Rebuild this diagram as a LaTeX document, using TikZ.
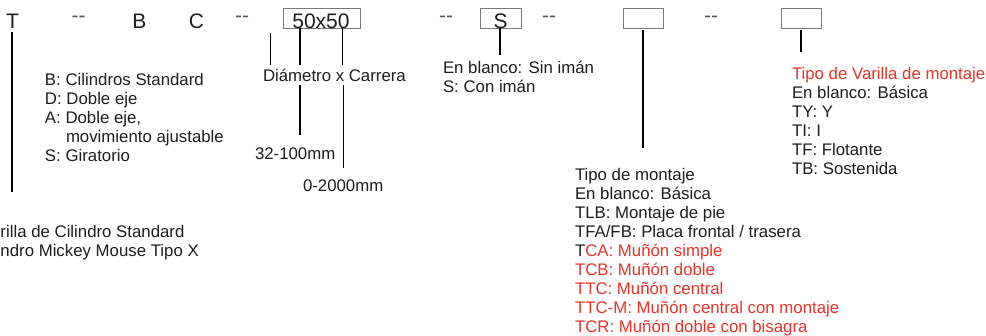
\documentclass[tikz,border=0pt]{standalone}
\usepackage{fontspec}
\setmainfont{Liberation Sans}
\definecolor{txt}{HTML}{1E1E1E}
\definecolor{myred}{HTML}{E8332B}
\definecolor{boxgray}{HTML}{7A7A7A}
\definecolor{dashgray}{HTML}{555555}
\begin{document}
\begin{tikzpicture}[x=1pt,y=-1pt,
  lbl/.style={inner sep=0,outer sep=0,anchor=base west,align=left,
    font=\fontsize{16.8}{19}\selectfont,text=txt},
  code/.style={inner sep=0,outer sep=0,anchor=base,font=\fontsize{21}{24}\selectfont,text=txt},
  dd/.style={code,text=dashgray},
  slot/.style={draw=boxgray,line width=0.9pt,inner sep=0,minimum height=20pt},
  thickln/.style={line width=2pt,draw=black},
  thinln/.style={line width=1pt,draw=black}]
\clip (0,0) rectangle (986,336);
\fill[white] (0,0) rectangle (986,336);
% top row
\node[code] (t) at (12.5,29) {T};
\node[dd] (d1) at (78.5,23) {-{}-};
\node[code] (b) at (139.5,29) {B};
\node[code] (c) at (196.5,29) {C};
\node[dd] (d2) at (242,23) {-{}-};
\node[slot,minimum width=77pt] (box1) at (321.5,18) {};
\node[code] (sz) at (321,29) {50x50};
\node[dd] (d3) at (446,23) {-{}-};
\node[slot,minimum width=41pt] (box2) at (500.5,18) {};
\node[code] (s) at (500.5,29) {S};
\node[dd] (d4) at (549,23) {-{}-};
\node[slot,minimum width=40pt] (box3) at (643,18) {};
\node[dd] (d5) at (711,23) {-{}-};
\node[slot,minimum width=40pt] (box4) at (801,18) {};
% labels (base anchor = baseline of last line)
\node[lbl] (tipos) at (45,162) {B: Cilindros Standard\\D: Doble eje\\A: Doble eje,\\\hspace*{21pt}movimiento ajustable\\S: Giratorio};
\node[lbl] (dc) at (263,82) {Diámetro x Carrera};
\node[lbl] (dia) at (255,160) {32-100mm};
\node[lbl] (car) at (303,192) {0-2000mm};
\node[lbl] (iman) at (443,93) {En blanco: Sin imán\\S: Con imán};
\node[lbl] (mont) at (575,333) {Tipo de montaje\\En blanco: Básica\\TLB: Montaje de pie\\TFA/FB: Placa frontal / trasera\\T\textcolor{myred}{CA: Muñón simple}\\\textcolor{myred}{TCB: Muñón doble}\\\textcolor{myred}{TTC: Muñón central}\\\textcolor{myred}{TTC-M: Muñón central con montaje}\\\textcolor{myred}{TCR: Muñón doble con bisagra}};
\node[lbl] (var) at (792,175) {\textcolor{myred}{Tipo de Varilla de montaje}\\En blanco: Básica\\TY: Y\\TI: I\\TF: Flotante\\TB: Sostenida};
\node[lbl] (serie) at (0.5,257) {rilla de Cilindro Standard\\ndro Mickey Mouse Tipo X};
% free ends
\coordinate (tend) at (12,192);
\coordinate (l1a) at (270,33);
\coordinate (l1b) at (270,65);
\coordinate (l2b) at (300,65);
\coordinate (l3b) at (342,65);
\coordinate (l4a) at (300,85);
\coordinate (l4b) at (300,135);
\coordinate (l5a) at (343,85);
\coordinate (l5b) at (343,168);
\coordinate (sb) at (500,55);
\coordinate (m3) at (643,148);
\coordinate (m4) at (801,52);
% connectors
\draw[thickln] (12,32) -- (tend);
\draw[thinln] (l1a) -- (l1b);
\draw[thickln] (box1.south -| l2b) -- (l2b);
\draw[thinln] (box1.south -| l3b) -- (l3b);
\draw[thickln] (l4a) -- (l4b);
\draw[thinln] (l5a) -- (l5b);
\draw[thickln] (box2.south -| sb) -- (sb);
\draw[thickln] ([yshift=-2pt]box3.south) -- (m3);
\draw[thickln] ([yshift=-2pt]box4.south) -- (m4);
\end{tikzpicture}
\end{document}
